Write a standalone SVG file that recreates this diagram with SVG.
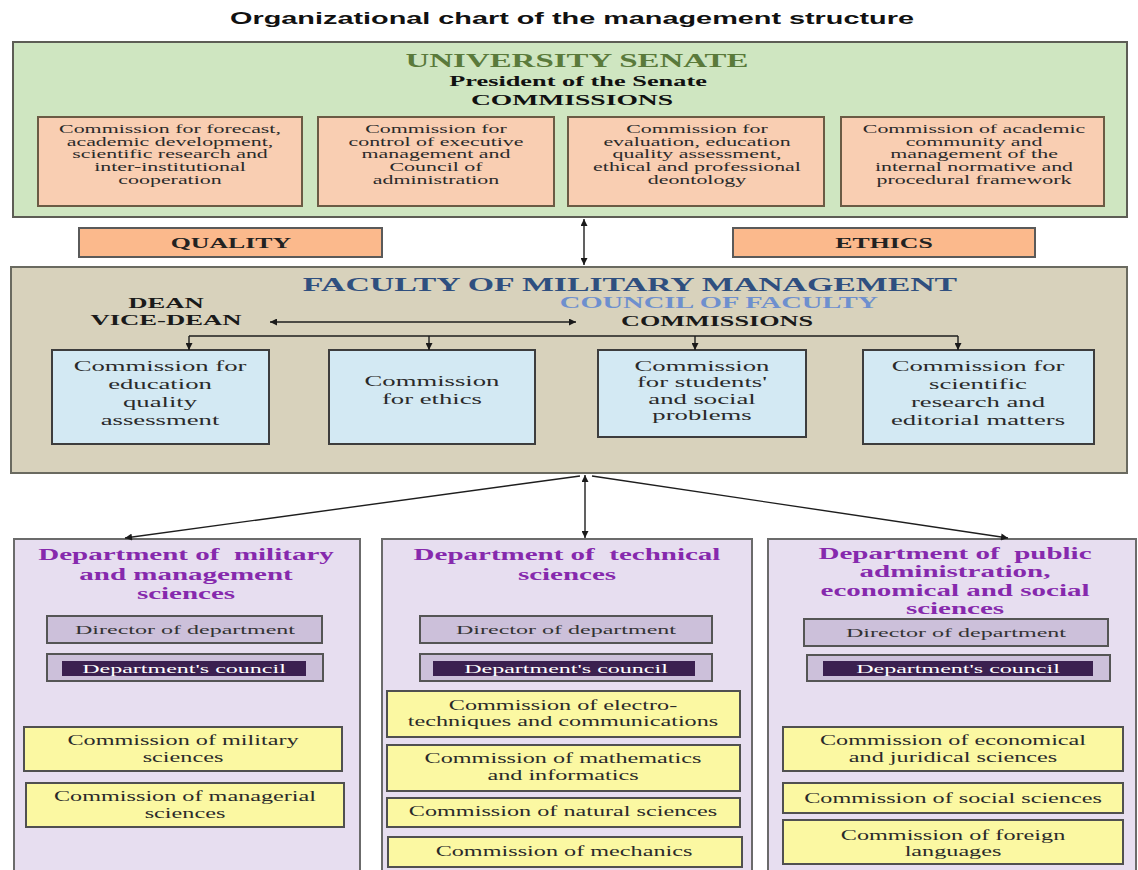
<svg xmlns="http://www.w3.org/2000/svg" width="1138" height="870" viewBox="0 0 1138 870">
<defs>
<marker id="ah" viewBox="0 0 10 10" refX="10" refY="5" markerWidth="9" markerHeight="7" markerUnits="userSpaceOnUse" orient="auto-start-reverse"><path d="M0,0 L10,5 L0,10 z" fill="#1a1a1a"/></marker>
<style>
text{text-anchor:middle;font-family:"Liberation Serif","Times New Roman",serif}
.title{font-family:"Liberation Sans",Arial,sans-serif;font-weight:bold;font-size:16.2px;fill:#111}
.b{font-weight:bold}
.senate{fill:#cfe6c1;stroke:#5d5d55;stroke-width:2}
.peach{fill:#f9ceb2;stroke:#6b5b44;stroke-width:2}
.orange{fill:#fbb98c;stroke:#5a5a5a;stroke-width:2}
.fac{fill:#d8d2bc;stroke:#6a6a60;stroke-width:2}
.blue{fill:#d3e9f3;stroke:#3d3d3d;stroke-width:2}
.dept{fill:#e7def0;stroke:#6b6b6b;stroke-width:2}
.dir{fill:#ccc0da;stroke:#555;stroke-width:2}
.band{fill:#3b2050}
.yel{fill:#fbf8a2;stroke:#505050;stroke-width:2}
.pt{font-size:12.3px;fill:#2a2a2a}
.bt{font-size:15px;fill:#2a2a2a}
.dt{font-size:16.3px;font-weight:bold;fill:#8629ad}
.st{font-size:13.5px;fill:#333}
.ct{font-size:13.5px;fill:#fff}
.yt{font-size:13.6px;fill:#2a2a2a}
.con{stroke:#1e1e1e;stroke-width:1.4;fill:none}
</style>
</defs>
<rect width="1138" height="870" fill="#ffffff"/>
<text class="title" transform="translate(572 0) scale(1.78 1)" y="24">Organizational chart of the management structure</text>

<g id="senate">
<rect class="senate" x="13" y="42" width="1114" height="175"/>
<text class="b" style="font-size:18.5px;fill:#5a7a3b" transform="translate(577 0) scale(1.78 1)" y="67">UNIVERSITY SENATE</text>
<text class="b" style="font-size:14.8px;fill:#111" transform="translate(578 0) scale(1.78 1)" y="86">President of the Senate</text>
<text class="b" style="font-size:15.5px;fill:#111" transform="translate(572 0) scale(1.78 1)" y="105">COMMISSIONS</text>
</g>
<g id="sc1">
<rect class="peach" x="38" y="117" width="264" height="89"/>
<text class="pt" transform="translate(170 0) scale(1.78 1)"><tspan x="0" y="133">Commission for forecast,</tspan><tspan x="0" y="145.7">academic development,</tspan><tspan x="0" y="158.4">scientific research and</tspan><tspan x="0" y="171.1">inter-institutional</tspan><tspan x="0" y="183.8">cooperation</tspan></text>
</g>
<g id="sc2">
<rect class="peach" x="318" y="117" width="236" height="89"/>
<text class="pt" transform="translate(436 0) scale(1.78 1)"><tspan x="0" y="133">Commission for</tspan><tspan x="0" y="145.7">control of executive</tspan><tspan x="0" y="158.4">management and</tspan><tspan x="0" y="171.1">Council of</tspan><tspan x="0" y="183.8">administration</tspan></text>
</g>
<g id="sc3">
<rect class="peach" x="568" y="117" width="256" height="89"/>
<text class="pt" transform="translate(697 0) scale(1.78 1)"><tspan x="0" y="133">Commission for</tspan><tspan x="0" y="145.7">evaluation, education</tspan><tspan x="0" y="158.4">quality assessment,</tspan><tspan x="0" y="171.1">ethical and professional</tspan><tspan x="0" y="183.8">deontology</tspan></text>
</g>
<g id="sc4">
<rect class="peach" x="841" y="117" width="263" height="89"/>
<text class="pt" transform="translate(974 0) scale(1.78 1)"><tspan x="0" y="133">Commission of academic</tspan><tspan x="0" y="145.7">community and</tspan><tspan x="0" y="158.4">management of the</tspan><tspan x="0" y="171.1">internal normative and</tspan><tspan x="0" y="183.8">procedural framework</tspan></text>
</g>

<g id="quality">
<rect class="orange" x="79" y="228" width="303" height="29"/>
<text class="b" style="font-size:14.5px;fill:#222" transform="translate(231 0) scale(1.78 1)" y="248">QUALITY</text>
</g>
<g id="ethics">
<rect class="orange" x="733" y="228" width="302" height="29"/>
<text class="b" style="font-size:14.5px;fill:#222" transform="translate(884 0) scale(1.78 1)" y="248">ETHICS</text>
</g>

<g id="faculty">
<rect class="fac" x="11" y="267" width="1116" height="206"/>
<text class="b" style="font-size:19px;fill:#2f4f7f" transform="translate(630 0) scale(1.78 1)" y="291">FACULTY OF MILITARY MANAGEMENT</text>
<text class="b" style="font-size:16px;fill:#6e8fce" transform="translate(719 0) scale(1.78 1)" y="308">COUNCIL OF FACULTY</text>
<text class="b" style="font-size:14.7px;fill:#1a1a1a" transform="translate(717 0) scale(1.78 1)" y="326">COMMISSIONS</text>
<text class="b" style="font-size:15px;fill:#1a1a1a" transform="translate(166 0) scale(1.78 1)"><tspan x="0" y="308">DEAN</tspan><tspan x="0" y="325">VICE-DEAN</tspan></text>
</g>
<g id="fc1">
<rect class="blue" x="52" y="350" width="217" height="94"/>
<text class="bt" transform="translate(160 0) scale(1.78 1)"><tspan x="0" y="371">Commission for</tspan><tspan x="0" y="389">education</tspan><tspan x="0" y="407">quality</tspan><tspan x="0" y="425">assessment</tspan></text>
</g>
<g id="fc2">
<rect class="blue" x="329" y="350" width="206" height="94"/>
<text class="bt" transform="translate(432 0) scale(1.78 1)"><tspan x="0" y="386">Commission</tspan><tspan x="0" y="404">for ethics</tspan></text>
</g>
<g id="fc3">
<rect class="blue" x="598" y="350" width="208" height="87"/>
<text class="bt" transform="translate(702 0) scale(1.78 1)"><tspan x="0" y="371">Commission</tspan><tspan x="0" y="387.5">for students'</tspan><tspan x="0" y="404">and social</tspan><tspan x="0" y="420.5">problems</tspan></text>
</g>
<g id="fc4">
<rect class="blue" x="863" y="350" width="231" height="94"/>
<text class="bt" transform="translate(978 0) scale(1.78 1)"><tspan x="0" y="371">Commission for</tspan><tspan x="0" y="389">scientific</tspan><tspan x="0" y="407">research and</tspan><tspan x="0" y="425">editorial matters</tspan></text>
</g>

<g id="dept1">
<rect class="dept" x="14" y="539" width="346" height="340"/>
<text class="dt" transform="translate(186 0) scale(1.78 1)"><tspan x="0" y="560">Department of&#160; military</tspan><tspan x="0" y="580">and management</tspan><tspan x="0" y="599">sciences</tspan></text>
<rect class="dir" x="47" y="616" width="275" height="27"/>
<text class="st" transform="translate(185 0) scale(1.78 1)" y="634">Director of department</text>
<rect class="dir" x="47" y="654" width="276" height="27"/>
<rect class="band" x="62" y="661" width="244" height="15"/>
<text class="ct" transform="translate(184 0) scale(1.78 1)" y="673">Department's council</text>
<rect class="yel" x="24" y="727" width="318" height="44"/>
<text class="yt" transform="translate(183 0) scale(1.78 1)"><tspan x="0" y="745">Commission of military</tspan><tspan x="0" y="762">sciences</tspan></text>
<rect class="yel" x="26" y="783" width="318" height="44"/>
<text class="yt" transform="translate(185 0) scale(1.78 1)"><tspan x="0" y="801">Commission of managerial</tspan><tspan x="0" y="818">sciences</tspan></text>
</g>

<g id="dept2">
<rect class="dept" x="382" y="539" width="370" height="340"/>
<text class="dt" transform="translate(567 0) scale(1.78 1)"><tspan x="0" y="560">Department of&#160; technical</tspan><tspan x="0" y="580">sciences</tspan></text>
<rect class="dir" x="420" y="616" width="292" height="27"/>
<text class="st" transform="translate(566 0) scale(1.78 1)" y="634">Director of department</text>
<rect class="dir" x="420" y="654" width="292" height="27"/>
<rect class="band" x="433" y="661" width="262" height="15"/>
<text class="ct" transform="translate(566 0) scale(1.78 1)" y="673">Department's council</text>
<rect class="yel" x="387" y="691" width="353" height="46"/>
<text class="yt" transform="translate(563 0) scale(1.78 1)"><tspan x="0" y="710">Commission of electro-</tspan><tspan x="0" y="726">techniques and communications</tspan></text>
<rect class="yel" x="387" y="745" width="353" height="46"/>
<text class="yt" transform="translate(563 0) scale(1.78 1)"><tspan x="0" y="763">Commission of mathematics</tspan><tspan x="0" y="780">and informatics</tspan></text>
<rect class="yel" x="387" y="798" width="353" height="29"/>
<text class="yt" transform="translate(563 0) scale(1.78 1)" y="816">Commission of natural sciences</text>
<rect class="yel" x="388" y="837" width="354" height="30"/>
<text class="yt" transform="translate(564 0) scale(1.78 1)" y="856">Commission of mechanics</text>
</g>

<g id="dept3">
<rect class="dept" x="768" y="539" width="368" height="340"/>
<text class="dt" transform="translate(955 0) scale(1.78 1)"><tspan x="0" y="559">Department of&#160; public</tspan><tspan x="0" y="577.5">administration,</tspan><tspan x="0" y="596">economical and social</tspan><tspan x="0" y="614.5">sciences</tspan></text>
<rect class="dir" x="804" y="619" width="304" height="27"/>
<text class="st" transform="translate(956 0) scale(1.78 1)" y="637">Director of department</text>
<rect class="dir" x="807" y="655" width="303" height="26"/>
<rect class="band" x="823" y="661" width="270" height="15"/>
<text class="ct" transform="translate(958 0) scale(1.78 1)" y="673">Department's council</text>
<rect class="yel" x="783" y="727" width="340" height="44"/>
<text class="yt" transform="translate(953 0) scale(1.78 1)"><tspan x="0" y="745">Commission of economical</tspan><tspan x="0" y="762">and juridical sciences</tspan></text>
<rect class="yel" x="783" y="783" width="340" height="30"/>
<text class="yt" transform="translate(953 0) scale(1.78 1)" y="803">Commission of social sciences</text>
<rect class="yel" x="783" y="820" width="340" height="44"/>
<text class="yt" transform="translate(953 0) scale(1.78 1)"><tspan x="0" y="840">Commission of foreign</tspan><tspan x="0" y="856">languages</tspan></text>
</g>

<g id="connectors">
<line class="con" x1="584" y1="219" x2="584" y2="265" marker-start="url(#ah)" marker-end="url(#ah)"/>
<line class="con" x1="270" y1="322" x2="576" y2="322" marker-start="url(#ah)" marker-end="url(#ah)"/>
<line class="con" x1="189" y1="336" x2="958" y2="336"/>
<line class="con" x1="189" y1="336" x2="189" y2="350" marker-end="url(#ah)"/>
<line class="con" x1="429" y1="336" x2="429" y2="350" marker-end="url(#ah)"/>
<line class="con" x1="695" y1="336" x2="695" y2="350" marker-end="url(#ah)"/>
<line class="con" x1="958" y1="336" x2="958" y2="350" marker-end="url(#ah)"/>
<line class="con" x1="580" y1="476" x2="125" y2="538" marker-end="url(#ah)"/>
<line class="con" x1="592" y1="476" x2="1008" y2="538" marker-end="url(#ah)"/>
<line class="con" x1="585" y1="475" x2="585" y2="538" marker-start="url(#ah)" marker-end="url(#ah)"/>
</g>
</svg>
